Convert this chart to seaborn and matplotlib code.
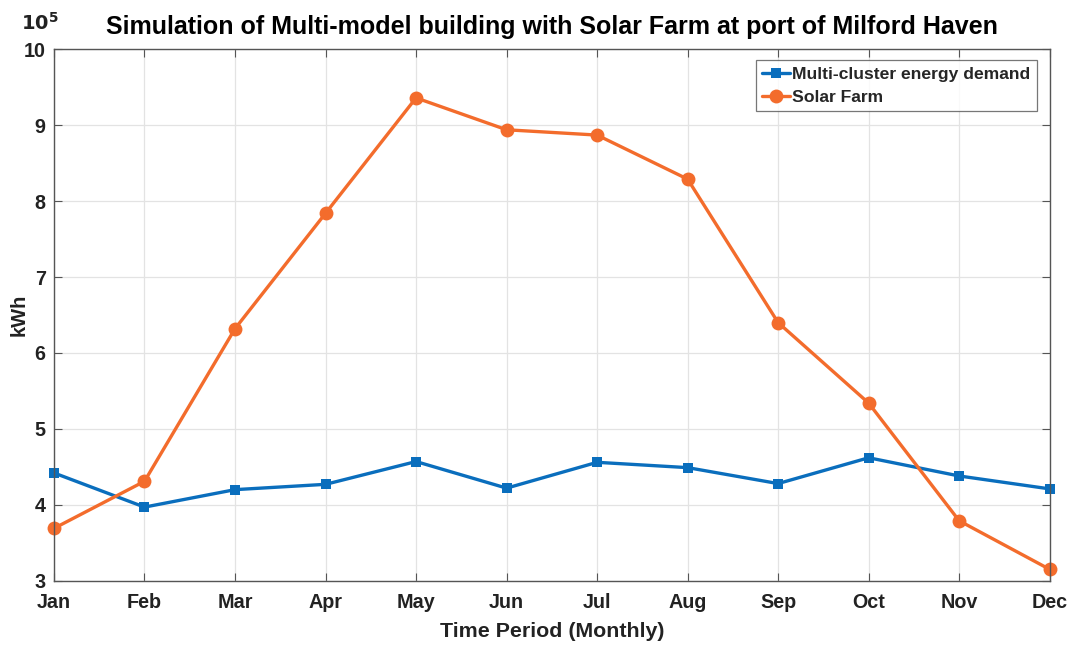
import numpy as np
import pandas as pd
import matplotlib
matplotlib.use("Agg")
import matplotlib.pyplot as plt
import seaborn as sns
from matplotlib.lines import Line2D

# Monthly energy figures, in kWh
months = ["Jan", "Feb", "Mar", "Apr", "May", "Jun", "Jul", "Aug", "Sep", "Oct", "Nov", "Dec"]
demand_kwh = [442000, 397000, 420000, 427000, 457000, 422000, 456000, 449000, 428000, 462000, 438000, 421000]
solar_kwh = [369000, 431000, 632000, 784000, 936000, 894000, 887000, 829000, 640000, 534000, 379000, 315000]

series_names = ["Multi-cluster energy demand", "Solar Farm"]
scale = 1e5

df = pd.DataFrame({
    "month": list(range(len(months))) * 2,
    "value": np.array(demand_kwh + solar_kwh) / scale,
    "series": [series_names[0]] * len(months) + [series_names[1]] * len(months),
})

sns.set_theme(style="white")
plt.rcParams["font.family"] = ["Liberation Sans", "DejaVu Sans"]
plt.rcParams["font.weight"] = "bold"

text_color = "#222222"
blue = "#0A6EBD"
orange = "#F36C2C"

fig = plt.figure(figsize=(10.71, 6.46), dpi=100)
ax = fig.add_axes([0.0504, 0.101, 0.9297, 0.8227])

ax.grid(True, color="#E3E3E3", linewidth=0.9)
ax.set_axisbelow(True)

sns.lineplot(
    data=df, x="month", y="value", hue="series", style="series",
    palette={series_names[0]: blue, series_names[1]: orange},
    markers={series_names[0]: "s", series_names[1]: "o"},
    dashes=False, linewidth=2.4, ax=ax, legend=False,
)
# Marker sizes per series
for line, ms in zip(ax.get_lines(), [6.5, 10]):
    line.set_markersize(ms)
    line.set_markeredgewidth(0)
    line.set_clip_on(False)

ax.set_xlim(0, len(months) - 1)
ax.set_ylim(3, 10)
ax.set_xticks(range(len(months)))
ax.set_xticklabels(months)
ax.set_yticks(range(3, 11))

for side in ["left", "right", "top", "bottom"]:
    ax.spines[side].set_visible(True)
    ax.spines[side].set_color("#555555")
    ax.spines[side].set_linewidth(1.0)

ax.tick_params(axis="both", which="both", direction="in", length=6, width=0.8,
               color="#555555", top=True, right=True, bottom=True, left=True,
               labelsize=14.2, labelcolor=text_color, pad=6)
ax.tick_params(axis="x", pad=9)
for lbl in ax.get_xticklabels() + ax.get_yticklabels():
    lbl.set_fontweight("bold")

ax.set_xlabel("Time Period (Monthly)", fontsize=15.4, fontweight="bold", color=text_color, labelpad=7)
ax.set_ylabel("kWh", fontsize=14.5, fontweight="bold", color=text_color)
ax.yaxis.set_label_coords(-0.025, 0.5)
ax.set_title("Simulation of Multi-model building with Solar Farm at port of Milford Haven",
             fontsize=18, fontweight="bold", color="black", pad=11)

# Axis multiplier shown at the top of the y axis
ax.text(0.005, 1.03, r"$\mathbf{10^{5}}$", transform=ax.transAxes, ha="right", va="bottom",
        fontsize=14, color=text_color)

handles = [
    Line2D([], [], color=blue, marker="s", markersize=6.5, markeredgewidth=0, linewidth=2.4),
    Line2D([], [], color=orange, marker="o", markersize=10, markeredgewidth=0, linewidth=2.4),
]
leg = ax.legend(handles, series_names, loc="upper right", bbox_to_anchor=(0.987, 0.979),
                frameon=True, fancybox=False, edgecolor="#555555", fontsize=12.6,
                handlelength=1.6, handletextpad=0.15, borderpad=0.35, labelspacing=0.45,
                borderaxespad=0.0)
leg.get_frame().set_linewidth(0.9)
for t in leg.get_texts():
    t.set_fontweight("bold")

fig.savefig("out.png", dpi=100, facecolor="white")
